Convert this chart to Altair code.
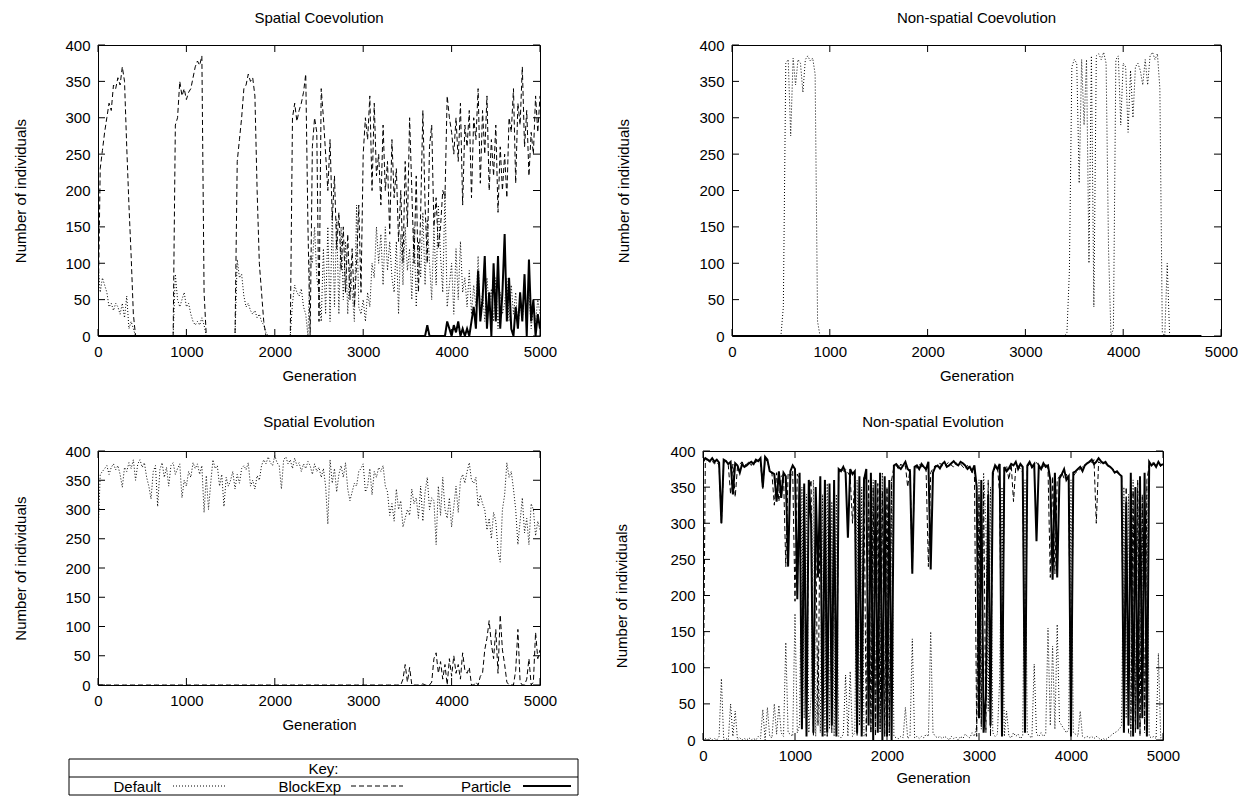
import altair as alt
import pandas as pd

FONT = "Liberation Sans"
FS = 15
GEN = list(range(0, 5001, 25))
X_TICKS = [0, 1000, 2000, 3000, 4000, 5000]
Y_TICKS = [0, 50, 100, 150, 200, 250, 300, 350, 400]
KEY_LABELS = ["Default", "BlockExp", "Particle"]

# ---------------- Spatial Coevolution ----------------
sc_default = [
    100, 60, 80, 70, 60, 40, 45, 35, 45, 40, 30, 45, 25, 55, 10, 20, 10, 0, 0, 0,
    0, 0, 0, 0, 0, 0, 0, 0, 0, 0, 0, 0, 0, 0, 0, 85, 50, 40, 50, 60,
    40, 45, 30, 20, 15, 20, 15, 25, 15, 0, 0, 0, 0, 0, 0, 0, 0, 0, 0, 0,
    0, 0, 0, 105, 80, 85, 55, 40, 45, 35, 30, 35, 25, 30, 20, 15, 5, 0, 0, 0,
    0, 0, 0, 0, 0, 0, 0, 0, 45, 70, 60, 55, 65, 40, 30, 0, 110, 100, 150, 80,
    60, 20, 120, 30, 150, 20, 170, 40, 160, 30, 150, 50, 130, 30, 100, 60, 20, 180, 40, 30,
    50, 20, 60, 40, 100, 80, 150, 100, 140, 70, 150, 90, 130, 80, 60, 130, 30, 140, 70, 150,
    90, 120, 50, 150, 40, 130, 80, 170, 70, 160, 100, 50, 150, 70, 180, 110, 60, 200, 40, 70,
    100, 30, 120, 50, 130, 60, 80, 40, 90, 30, 70, 40, 110, 30, 60, 20, 80, 40, 65, 20,
    80, 10, 60, 30, 45, 80, 20, 70, 30, 60, 10, 50, 20, 70, 30, 60, 10, 40, 20, 50,
    30,
]
sc_blockexp = [
    20, 230, 255, 280, 300, 320, 310, 345, 340, 355, 345, 370, 350, 260, 180, 110, 30, 0, 0, 0,
    0, 0, 0, 0, 0, 0, 0, 0, 0, 0, 0, 0, 0, 0, 0, 290, 300, 350, 330, 340,
    325, 335, 340, 355, 370, 378, 372, 385, 60, 0, 0, 0, 0, 0, 0, 0, 0, 0, 0, 0,
    0, 0, 0, 240, 270, 300, 340, 345, 360, 350, 355, 330, 200, 100, 60, 20, 0, 0, 0, 0,
    0, 0, 0, 0, 0, 0, 0, 0, 300, 320, 295, 310, 320, 335, 360, 150, 0, 260, 300, 280,
    20, 340, 300, 250, 200, 270, 160, 220, 120, 170, 90, 150, 60, 140, 50, 120, 40, 100, 180, 60,
    250, 300, 270, 330, 200, 320, 220, 250, 180, 290, 200, 240, 140, 270, 190, 230, 130, 200, 100, 240,
    150, 300, 200, 100, 220, 60, 170, 310, 180, 100, 260, 290, 150, 190, 120, 150, 200, 190, 330, 300,
    280, 250, 300, 240, 320, 180, 290, 260, 310, 190, 300, 270, 340, 210, 310, 250, 330, 200, 270, 220,
    290, 170, 260, 200, 250, 190, 300, 280, 340, 210, 320, 290, 370, 260, 310, 220, 280, 250, 330, 280,
    330,
]
sc_particle = [
    0, 0, 0, 0, 0, 0, 0, 0, 0, 0, 0, 0, 0, 0, 0, 0, 0, 0, 0, 0,
    0, 0, 0, 0, 0, 0, 0, 0, 0, 0, 0, 0, 0, 0, 0, 0, 0, 0, 0, 0,
    0, 0, 0, 0, 0, 0, 0, 0, 0, 0, 0, 0, 0, 0, 0, 0, 0, 0, 0, 0,
    0, 0, 0, 0, 0, 0, 0, 0, 0, 0, 0, 0, 0, 0, 0, 0, 0, 0, 0, 0,
    0, 0, 0, 0, 0, 0, 0, 0, 0, 0, 0, 0, 0, 0, 0, 0, 0, 0, 0, 0,
    0, 0, 0, 0, 0, 0, 0, 0, 0, 0, 0, 0, 0, 0, 0, 0, 0, 0, 0, 0,
    0, 0, 0, 0, 0, 0, 0, 0, 0, 0, 0, 0, 0, 0, 0, 0, 0, 0, 0, 0,
    0, 0, 0, 0, 0, 0, 0, 0, 0, 15, 0, 0, 0, 0, 0, 0, 0, 0, 20, 10,
    0, 15, 5, 20, 0, 10, 0, 10, 0, 20, 40, 10, 90, 20, 50, 110, 10, 60, 0, 100,
    20, 110, 10, 60, 140, 20, 80, 10, 0, 40, 10, 60, 20, 85, 0, 105, 20, 50, 0, 30,
    10,
]

# ---------------- Non-spatial Coevolution ----------------
N = None
nc_default = [
    0, 0, 0, 0, 0, 0, 0, 0, 0, 0, 0, 0, 0, 0, 0, 0, 0, 0, 0, 0,
    0, 40, 375, 380, 275, 382, 345, 380, 375, 335, 380, 385, 378, 382, 360, 20, 0, 0, 0, 0,
    0, 0, 0, 0, 0, 0, 0, 0, 0, 0, 0, 0, 0, 0, 0, 0, 0, 0, 0, 0,
    0, 0, 0, 0, 0, 0, 0, 0, 0, 0, 0, 0, 0, 0, 0, 0, 0, 0, 0, 0,
    0, 0, 0, 0, 0, 0, 0, 0, 0, 0, 0, 0, 0, 0, 0, 0, 0, 0, 0, 0,
    0, 0, 0, 0, 0, 0, 0, 0, 0, 0, 0, 0, 0, 0, 0, 0, 0, 0, 0, 0,
    0, 0, 0, 0, 0, 0, 0, 0, 0, 0, 0, 0, 0, 0, 0, 0, 0, 5, 90, 370,
    380, 375, 210, 380, 290, 380, 100, 385, 40, 385, 388, 380, 390, 375, 120, 0, 10, 380, 385, 290,
    375, 370, 280, 365, 300, 370, 375, 365, 345, 380, 345, 385, 390, 380, 388, 340, 5, 0, 100, 0,
    0, 0, 0, 0, 0, 0, 0, 0, 0, 0, 0, 0, 0, N, N, N, N, N, N, N,
    N,
]
nc_blockexp = [
    0, 0, 0, 0, 0, 0, 0, 0, 0, 0, 0, 0, 0, 0, 0, 0, 0, 0, 0, 0,
    0, 0, 0, 0, 0, 0, 0, 0, 0, 0, 0, 0, 0, 0, 0, 0, 0, 0, 0, 0,
    0, 0, 0, 0, 0, 0, 0, 0, 0, 0, 0, 0, 0, 0, 0, 0, 0, 0, 0, 0,
    0, 0, 0, 0, 0, 0, 0, 0, 0, 0, 0, 0, 0, 0, 0, 0, 0, 0, 0, 0,
    0, 0, 0, 0, 0, 0, 0, 0, 0, 0, 0, 0, 0, 0, 0, 0, 0, 0, 0, 0,
    0, 0, 0, 0, 0, 0, 0, 0, 0, 0, 0, 0, 0, 0, 0, 0, 0, 0, 0, 0,
    0, 0, 0, 0, 0, 0, 0, 0, 0, 0, 0, 0, 0, 0, 0, 0, 0, 0, 0, 0,
    0, 0, 0, 0, 0, 0, 0, 0, 0, 0, 0, 0, 0, 0, 0, 0, 0, 0, 0, 0,
    0, 0, 0, 0, 0, 0, 0, 0, 0, 0, 0, 0, 0, 0, 0, 0, 0, 0, 0, 0,
    0, 0, 0, 0, 0, 0, 0, 0, 0, 0, 0, 0, 0, N, N, N, N, N, N, N,
    N,
]
nc_particle = [
    0, 0, 0, 0, 0, 0, 0, 0, 0, 0, 0, 0, 0, 0, 0, 0, 0, 0, 0, 0,
    0, 0, 0, 0, 0, 0, 0, 0, 0, 0, 0, 0, 0, 0, 0, 0, 0, 0, 0, 0,
    0, 0, 0, 0, 0, 0, 0, 0, 0, 0, 0, 0, 0, 0, 0, 0, 0, 0, 0, 0,
    0, 0, 0, 0, 0, 0, 0, 0, 0, 0, 0, 0, 0, 0, 0, 0, 0, 0, 0, 0,
    0, 0, 0, 0, 0, 0, 0, 0, 0, 0, 0, 0, 0, 0, 0, 0, 0, 0, 0, 0,
    0, 0, 0, 0, 0, 0, 0, 0, 0, 0, 0, 0, 0, 0, 0, 0, 0, 0, 0, 0,
    0, 0, 0, 0, 0, 0, 0, 0, 0, 0, 0, 0, 0, 0, 0, 0, 0, 0, 0, 0,
    0, 0, 0, 0, 0, 0, 0, 0, 0, 0, 0, 0, 0, 0, 0, 0, 0, 0, 0, 0,
    0, 0, 0, 0, 0, 0, 0, 0, 0, 0, 0, 0, 0, 0, 0, 0, 0, 0, 0, 0,
    0, 0, 0, 0, 0, 0, 0, 0, 0, 0, 0, 0, 0, N, N, N, N, N, N, N,
    N,
]

# ---------------- Spatial Evolution ----------------
se_default = [
    250, 360, 365, 370, 375, 360, 372, 378, 368, 375, 360, 338, 372, 365, 380, 370, 385, 350, 378, 385,
    372, 380, 355, 340, 318, 365, 375, 305, 368, 380, 355, 372, 340, 375, 380, 360, 370, 378, 320, 350,
    340, 365, 355, 380, 370, 378, 360, 375, 295, 358, 300, 345, 385, 370, 375, 340, 360, 305, 355, 340,
    350, 365, 335, 360, 345, 370, 375, 368, 380, 340, 350, 335, 358, 350, 375, 385, 378, 390, 380, 375,
    392, 380, 375, 335, 385, 390, 378, 385, 370, 388, 375, 380, 365, 378, 370, 382, 375, 360, 378, 365,
    372, 355, 370, 340, 275, 385, 345, 370, 330, 360, 375, 355, 380, 335, 315, 330, 345, 340, 365, 370,
    378, 330, 340, 370, 325, 365, 355, 372, 365, 375, 340, 330, 290, 310, 280, 335, 300, 315, 270, 285,
    300, 290, 335, 310, 320, 285, 340, 280, 330, 355, 300, 320, 315, 240, 340, 290, 355, 300, 285, 320,
    270, 305, 340, 295, 350, 360, 345, 365, 380, 350, 345, 355, 305, 325, 310, 300, 265, 285, 250, 295,
    280, 230, 210, 300, 325, 380, 355, 365, 335, 300, 240, 280, 320, 260, 285, 240, 310, 300, 255, 280,
    265,
]
se_blockexp = [
    0, 0, 0, 0, 0, 0, 0, 0, 0, 0, 0, 0, 0, 0, 0, 0, 0, 0, 0, 0,
    0, 0, 0, 0, 0, 0, 0, 0, 0, 0, 0, 0, 0, 0, 0, 0, 0, 0, 0, 0,
    0, 0, 0, 0, 0, 0, 0, 0, 0, 0, 0, 0, 0, 0, 0, 0, 0, 0, 0, 0,
    0, 0, 0, 0, 0, 0, 0, 0, 0, 0, 0, 0, 0, 0, 0, 0, 0, 0, 0, 0,
    0, 0, 0, 0, 0, 0, 0, 0, 0, 0, 0, 0, 0, 0, 0, 0, 0, 0, 0, 0,
    0, 0, 0, 0, 0, 0, 0, 0, 0, 0, 0, 0, 0, 0, 0, 0, 0, 0, 0, 0,
    0, 0, 0, 0, 0, 0, 0, 0, 0, 0, 0, 0, 0, 0, 0, 0, 0, 0, 10, 35,
    5, 30, 0, 0, 0, 0, 0, 2, 0, 0, 0, 5, 45, 55, 20, 40, 10, 35, 0, 45,
    15, 50, 20, 35, 10, 55, 25, 20, 30, 0, 0, 5, 0, 15, 20, 60, 80, 110, 70, 45,
    95, 20, 120, 60, 35, 5, 0, 0, 0, 25, 95, 5, 0, 0, 10, 45, 0, 5, 90, 45,
    60,
]

# ---------------- Non-spatial Evolution ----------------
ne_default = [
    5, 2, 0, 3, 0, 2, 0, 5, 85, 0, 2, 0, 50, 5, 40, 0, 3, 0, 2, 0,
    3, 0, 2, 0, 5, 2, 42, 0, 45, 5, 3, 50, 8, 48, 10, 5, 135, 10, 8, 5,
    175, 10, 20, 350, 30, 340, 10, 60, 360, 5, 130, 10, 340, 5, 355, 15, 330, 5, 340, 5,
    3, 8, 90, 5, 95, 5, 10, 360, 20, 350, 5, 10, 340, 10, 360, 15, 350, 10, 370, 5,
    350, 5, 360, 5, 3, 2, 5, 3, 45, 2, 5, 140, 3, 5, 2, 5, 3, 8, 5, 150,
    10, 5, 3, 5, 2, 5, 3, 0, 5, 2, 4, 0, 5, 2, 8, 5, 3, 10, 5, 20,
    360, 15, 370, 300, 40, 350, 10, 5, 8, 85, 350, 5, 40, 5, 3, 10, 5, 8, 2, 5,
    360, 10, 5, 3, 105, 8, 5, 10, 5, 8, 155, 20, 130, 15, 160, 25, 20, 15, 10, 15,
    360, 10, 8, 5, 40, 5, 3, 5, 3, 5, 2, 5, 3, 0, 2, 0, 3, 5, 8, 10,
    12, 15, 20, 350, 30, 340, 10, 360, 25, 345, 15, 330, 10, 355, 5, 3, 5, 2, 120, 3,
    5,
]
ne_blockexp = [
    0, 385, 388, 384, 386, 382, 385, 380, 300, 384, 386, 380, 340, 382, 336, 378, 382, 385, 380, 382,
    385, 380, 386, 384, 388, 385, 348, 390, 385, 375, 368, 325, 370, 330, 365, 368, 240, 370, 365, 372,
    192, 368, 360, 20, 350, 10, 340, 360, 5, 290, 20, 355, 15, 360, 5, 350, 10, 345, 10, 370,
    376, 372, 375, 370, 365, 300, 365, 5, 355, 10, 365, 5, 360, 10, 350, 5, 355, 15, 345, 5,
    350, 10, 360, 378, 380, 375, 382, 378, 380, 350, 375, 235, 380, 376, 382, 378, 380, 372, 240, 370,
    376, 380, 378, 383, 380, 378, 382, 385, 380, 378, 384, 380, 382, 378, 375, 380, 376, 370, 375, 5,
    340, 20, 355, 10, 360, 5, 365, 378, 380, 340, 20, 376, 380, 360, 382, 330, 378, 380, 375, 370,
    20, 378, 382, 376, 380, 384, 380, 375, 378, 382, 375, 225, 365, 230, 360, 365, 370, 362, 368, 360,
    20, 365, 370, 372, 375, 378, 380, 382, 386, 384, 388, 300, 385, 383, 386, 382, 380, 378, 376, 372,
    370, 368, 362, 20, 350, 10, 5, 345, 10, 360, 5, 340, 15, 360, 380, 385, 382, 380, 384, 378,
    380,
]
ne_particle = [
    385, 390, 388, 386, 390, 385, 388, 384, 300, 388, 386, 382, 385, 340, 383, 380, 370, 382, 378, 380,
    383, 385, 382, 388, 386, 390, 350, 392, 388, 372, 370, 368, 330, 372, 335, 370, 365, 240, 372, 380,
    375, 195, 370, 15, 355, 5, 360, 300, 10, 350, 225, 365, 5, 360, 10, 355, 20, 360, 5, 375,
    372, 378, 370, 280, 375, 368, 372, 10, 365, 5, 360, 375, 20, 370, 0, 360, 10, 370, 0, 365,
    5, 360, 0, 380, 382, 378, 375, 380, 385, 375, 372, 230, 378, 380, 375, 382, 378, 375, 385, 236,
    370, 378, 380, 376, 382, 385, 378, 380, 383, 386, 382, 380, 385, 383, 380, 375, 378, 372, 380, 350,
    30, 360, 10, 60, 340, 20, 370, 380, 375, 382, 5, 378, 372, 376, 382, 380, 385, 375, 382, 378,
    10, 380, 385, 378, 382, 275, 380, 375, 383, 378, 380, 360, 222, 370, 225, 362, 368, 375, 360, 365,
    5, 370, 372, 375, 378, 372, 380, 383, 385, 388, 382, 385, 390, 386, 383, 385, 380, 378, 375, 370,
    372, 368, 365, 10, 330, 20, 370, 5, 350, 15, 365, 30, 370, 5, 385, 380, 383, 378, 385, 380,
    382,
]

STYLE = {
    "Default": dict(strokeDash=[1, 2], strokeWidth=1),
    "BlockExp": dict(strokeDash=[5, 3], strokeWidth=1),
    "Particle": dict(strokeWidth=2),
}

XS = alt.Scale(domain=[0, 5000], nice=False, zero=False)
YS = alt.Scale(domain=[0, 400], nice=False, zero=False)
ONE = pd.DataFrame({"k": [0]})


def make_df(series):
    rows = []
    for name, vals in series.items():
        assert len(vals) == len(GEN), (name, len(vals))
        for g, v in zip(GEN, vals):
            rows.append({"gen": g, "value": v, "series": name})
    return pd.DataFrame(rows)


def panel(title, series, w, h, y_title_pad, x_title_pad, title_offset, extra=()):
    df = make_df(series)
    common = dict(grid=False, ticks=False, tickSize=0, domain=False, labelFlush=False,
                  labelOverlap=False, format="d", labelFont=FONT, titleFont=FONT,
                  labelFontSize=FS, titleFontSize=FS, titleFontWeight="normal",
                  labelColor="black", titleColor="black")
    xaxis = alt.Axis(values=X_TICKS, title="Generation", labelPadding=8,
                     titlePadding=x_title_pad, **common)
    yaxis = alt.Axis(values=Y_TICKS, title="Number of individuals", labelPadding=8,
                     titlePadding=y_title_pad, **common)
    layers = []
    for name in series:
        sub = df[df.series == name]
        layers.append(
            alt.Chart(sub).mark_line(color="black", clip=True, **STYLE[name]).encode(
                x=alt.X("gen:Q", scale=XS, axis=xaxis, title="Generation"),
                y=alt.Y("value:Q", scale=YS, axis=yaxis, title="Number of individuals"),
            )
        )
    xt = pd.DataFrame({"t": X_TICKS})
    yt = pd.DataFrame({"t": Y_TICKS})
    tl = 7
    layers += [
        alt.Chart(xt).mark_rule(color="black", strokeWidth=1, y2Offset=-tl).encode(
            x=alt.X("t:Q", scale=XS, axis=xaxis, title="Generation"),
            y=alt.YDatum(0, axis=yaxis, title="Number of individuals"), y2=alt.Y2Datum(0)),
        alt.Chart(xt).mark_rule(color="black", strokeWidth=1, y2Offset=tl).encode(
            x=alt.X("t:Q", scale=XS, axis=xaxis, title="Generation"),
            y=alt.YDatum(400, axis=yaxis, title="Number of individuals"), y2=alt.Y2Datum(400)),
        alt.Chart(yt).mark_rule(color="black", strokeWidth=1, x2Offset=tl).encode(
            y=alt.Y("t:Q", scale=YS, axis=yaxis, title="Number of individuals"),
            x=alt.XDatum(0, axis=xaxis, title="Generation"), x2=alt.X2Datum(0)),
        alt.Chart(yt).mark_rule(color="black", strokeWidth=1, x2Offset=-tl).encode(
            y=alt.Y("t:Q", scale=YS, axis=yaxis, title="Number of individuals"),
            x=alt.XDatum(5000, axis=xaxis, title="Generation"), x2=alt.X2Datum(5000)),
    ]
    layers += list(extra)
    return alt.layer(*layers).properties(
        width=w, height=h,
        title=alt.Title(title, fontSize=FS, font=FONT, fontWeight="normal", color="black",
                        offset=title_offset, anchor="middle", frame="group"),
    )


# key (legend box) drawn below the Spatial Evolution panel, in pixels of that panel
KB = dict(x1=-29, x2=480, y1=308, ym=326, y2=344)
KEY_TEXT_X = [63, 243, 413]
KEY_SAMPLE = [(75, 128), (253, 305), (425, 473)]


def key_layers():
    out = []
    for y in (KB["y1"], KB["ym"], KB["y2"]):
        out.append(alt.Chart(ONE).mark_rule(color="black", strokeWidth=1).encode(
            x=alt.value(KB["x1"]), x2=alt.value(KB["x2"]), y=alt.value(y)))
    for x in (KB["x1"], KB["x2"]):
        out.append(alt.Chart(ONE).mark_rule(color="black", strokeWidth=1).encode(
            x=alt.value(x), y=alt.value(KB["y1"]), y2=alt.value(KB["y2"])))
    out.append(alt.Chart(ONE).mark_text(font=FONT, fontSize=FS, color="black", align="center",
                                         baseline="middle").encode(
        x=alt.value((KB["x1"] + KB["x2"]) / 2), y=alt.value((KB["y1"] + KB["ym"]) / 2 + 1),
        text=alt.value("Key:")))
    yrow = (KB["ym"] + KB["y2"]) / 2 + 1
    for lab, tx, (s1, s2) in zip(KEY_LABELS, KEY_TEXT_X, KEY_SAMPLE):
        out.append(alt.Chart(ONE).mark_text(font=FONT, fontSize=FS, color="black", align="right",
                                             baseline="middle").encode(
            x=alt.value(tx), y=alt.value(yrow), text=alt.value(lab)))
        out.append(alt.Chart(ONE).mark_rule(color="black", **STYLE[lab]).encode(
            x=alt.value(s1), x2=alt.value(s2), y=alt.value(yrow - 1)))
    return out


p1 = panel("Spatial Coevolution",
           {"Default": sc_default, "BlockExp": sc_blockexp, "Particle": sc_particle},
           442, 291, 36, 9, 12)
p2 = panel("Non-spatial Coevolution",
           {"Default": nc_default, "BlockExp": nc_blockexp, "Particle": nc_particle},
           489, 291, 67, 9, 12)
p3 = panel("Spatial Evolution",
           {"Default": se_default, "BlockExp": se_blockexp},
           442, 234, 36, 9, 14, extra=key_layers())
p4 = panel("Non-spatial Evolution",
           {"Default": ne_default, "BlockExp": ne_blockexp, "Particle": ne_particle},
           460, 289, 40, 7, 14)

row1 = alt.hconcat(p1, p2, spacing=58)
row2 = alt.hconcat(p3, p4, spacing=35)
chart = alt.vconcat(row1, row2, spacing=30).properties(
    padding={"left": 5, "top": 2, "right": 0, "bottom": 0}, background="white"
).configure_view(stroke="black", strokeWidth=1)

chart.save("out.html", embed_options={"renderer": "svg", "actions": False})
